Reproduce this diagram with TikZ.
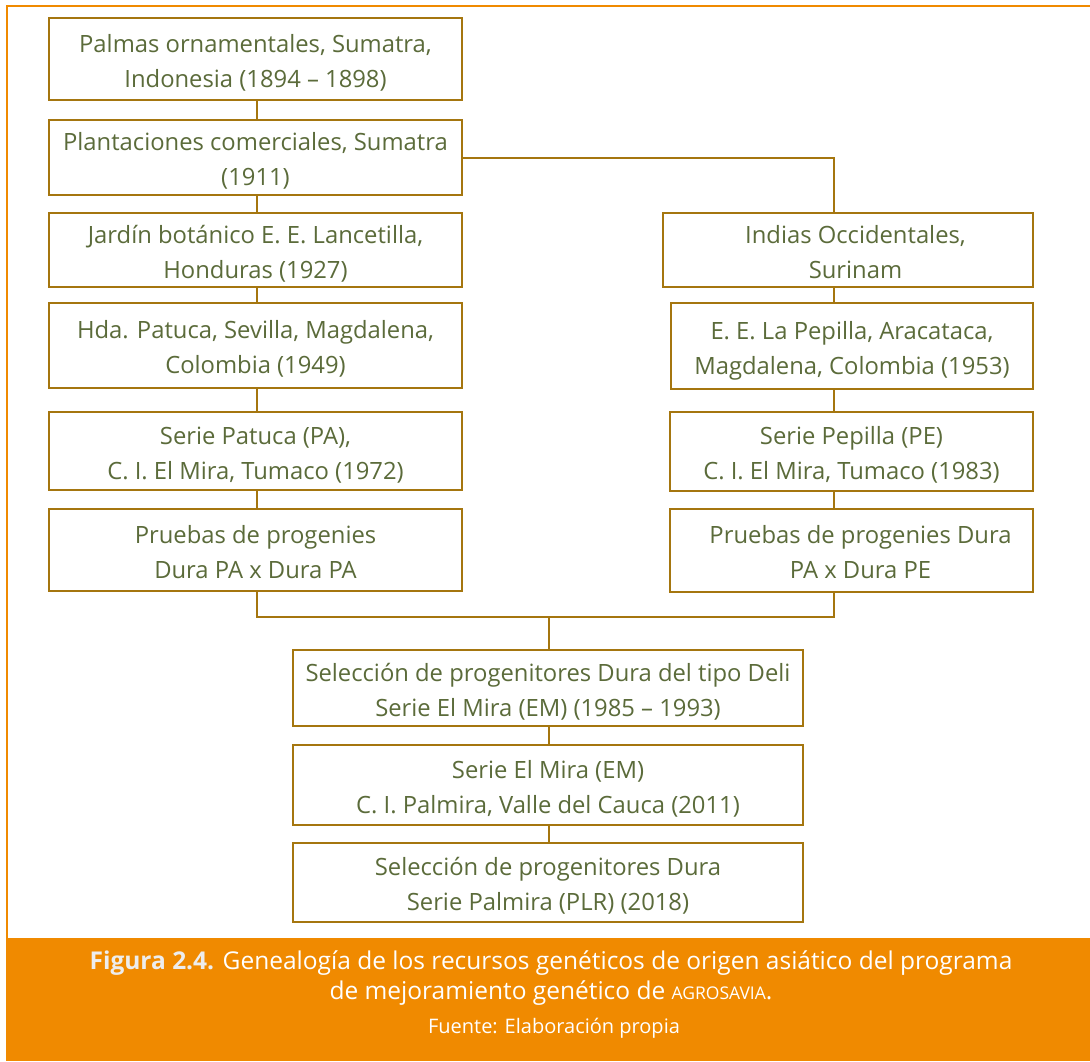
\documentclass[tikz,border=0pt]{standalone}
\usepackage{fontspec}
\setmainfont{Open Sans}
\definecolor{frameorange}{HTML}{F08A00}
\definecolor{boxline}{HTML}{A5760F}
\definecolor{txtgreen}{HTML}{5B6B3A}
\definecolor{capgray}{HTML}{EDEDED}
\newcommand\lns[1]{\raisebox{-3.5pt}[\height][\depth]{\begin{tabular}{@{}c@{}}#1\end{tabular}}}
\tikzset{
  box/.style={draw=boxline, line width=2pt, fill=white, rectangle,
    text=txtgreen, inner sep=0pt, font=\fontsize{23.8}{35}\selectfont},
  conn/.style={draw=boxline, line width=2pt},
}
\begin{document}
\begin{tikzpicture}[x=1pt,y=-1pt]
\useasboundingbox (0,0) rectangle (1090,1061);
% frame
\draw[frameorange, line width=2.5pt] (7,939) -- (7,6) -- (1090,6);
\fill[frameorange] (6,938) rectangle (1090,1061);
% left column
\node[box, minimum width=413pt, minimum height=82pt] (l1) at (255.5,59) {\lns{Palmas ornamentales, Sumatra,\\Indonesia (1894 – 1898)}};
\node[box, minimum width=413pt, minimum height=75pt] (l2) at (255.5,157.5) {\lns{Plantaciones comerciales, Sumatra\\(1911)}};
\node[box, minimum width=413pt, minimum height=74pt] (l3) at (255.5,250) {\lns{Jardín botánico E. E. Lancetilla,\\Honduras (1927)}};
\node[box, minimum width=413pt, minimum height=85pt] (l4) at (255.5,345.5) {\lns{Hda. Patuca, Sevilla, Magdalena,\\Colombia (1949)}};
\node[box, minimum width=413pt, minimum height=78pt] (l5) at (255.5,451) {\lns{Serie Patuca (PA),\\C. I. El Mira, Tumaco (1972)}};
\node[box, minimum width=413pt, minimum height=82pt] (l6) at (255.5,550) {\lns{Pruebas de progenies\\Dura PA x Dura PA}};
% right column
\node[box, minimum width=370pt, minimum height=74pt] (r1) at (848,250) {\lns{\hspace*{15pt}Indias Occidentales,\\\hspace*{15pt}Surinam}};
\node[box, minimum width=362pt, minimum height=86pt] (r2) at (852,346) {\lns{E. E. La Pepilla, Aracataca,\\Magdalena, Colombia (1953)}};
\node[box, minimum width=363pt, minimum height=79pt] (r3) at (851.5,451.5) {\lns{Serie Pepilla (PE)\\C. I. El Mira, Tumaco (1983)}};
\node[box, minimum width=363pt, minimum height=83pt] (r4) at (851.5,550.5) {\lns{\hspace*{18pt}Pruebas de progenies Dura\\\hspace*{18pt}PA x Dura PE}};
% bottom column
\node[box, minimum width=510pt, minimum height=76pt] (b1) at (548,688) {\lns{Selección de progenitores Dura del tipo Deli\\Serie El Mira (EM) (1985 – 1993)}};
\node[box, minimum width=510pt, minimum height=80pt] (b2) at (548,785) {\lns{Serie El Mira (EM)\\C. I. Palmira, Valle del Cauca (2011)}};
\node[box, minimum width=510pt, minimum height=79pt] (b3) at (548,882.5) {\lns{Selección de progenitores Dura\\Serie Palmira (PLR) (2018)}};
% connectors
\coordinate (lx) at (257,0);
\coordinate (rx) at (834,0);
\coordinate (mrg) at (549,617);
\draw[conn] (lx |- l1.south) -- (lx |- l2.north);
\draw[conn] (lx |- l2.south) -- (lx |- l3.north);
\draw[conn] (lx |- l3.south) -- (lx |- l4.north);
\draw[conn] (lx |- l4.south) -- (lx |- l5.north);
\draw[conn] (lx |- l5.south) -- (lx |- l6.north);
\draw[conn] (l2.east) -- (rx |- l2.east) -- (rx |- r1.north);
\draw[conn] (rx |- r1.south) -- (rx |- r2.north);
\draw[conn] (rx |- r2.south) -- (rx |- r3.north);
\draw[conn] (rx |- r3.south) -- (rx |- r4.north);
\draw[conn] (lx |- l6.south) -- (lx |- mrg) -- (rx |- mrg) -- (rx |- r4.south);
\draw[conn] (mrg) -- (mrg |- b1.north);
\draw[conn] (mrg |- b1.south) -- (mrg |- b2.north);
\draw[conn] (mrg |- b2.south) -- (mrg |- b3.north);
% caption
\node[text=white, font=\fontsize{24.5}{30}\selectfont, align=center] (cap) at (551,978)
  {{\color{capgray}\bfseries Figura 2.4.} Genealogía de los recursos genéticos de origen asiático del programa\\de mejoramiento genético de {\fontsize{17.5}{30}\selectfont AGROSAVIA}.};
\node[text=white, font=\fontsize{20}{20}\selectfont] (src) at (554,1028) {Fuente: Elaboración propia};
\end{tikzpicture}
\end{document}
